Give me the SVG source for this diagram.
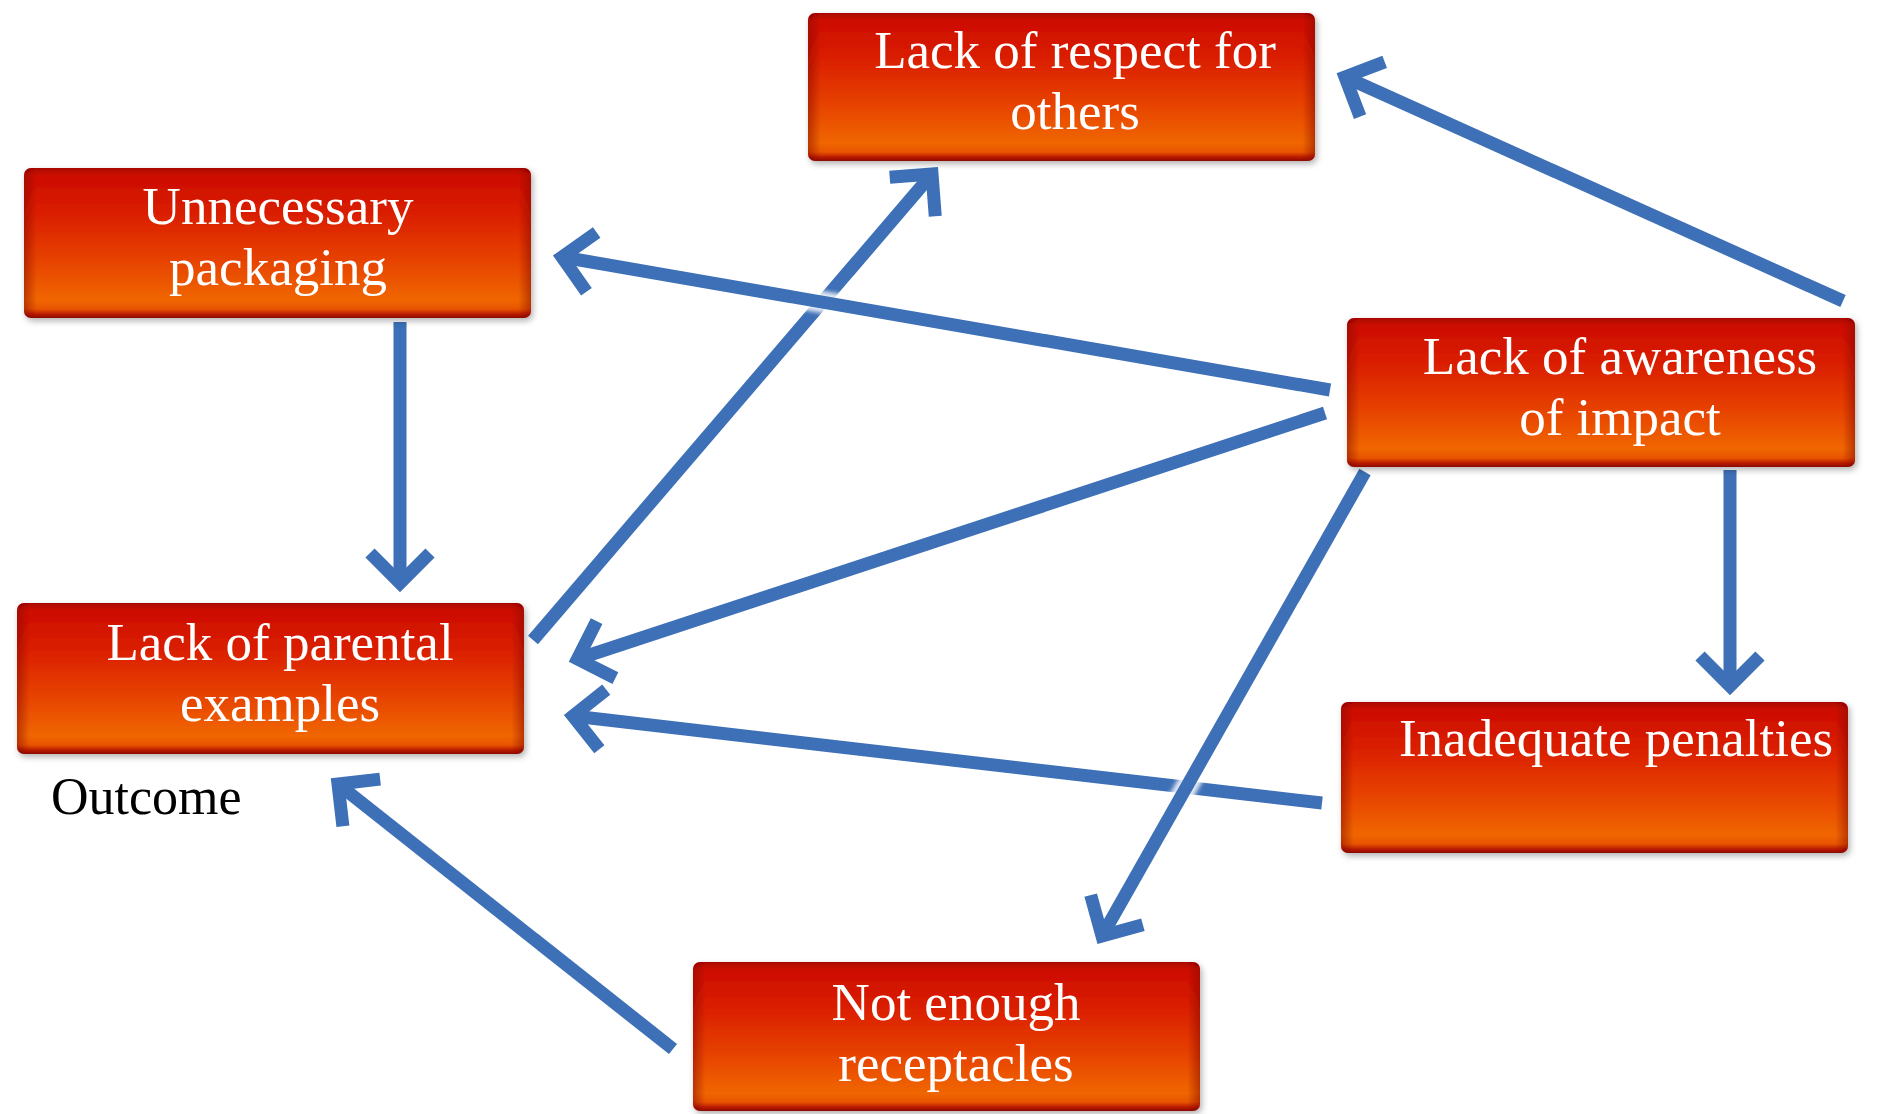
<svg xmlns="http://www.w3.org/2000/svg" width="1891" height="1114" viewBox="0 0 1891 1114">
  <defs>
    <!-- glossy red-to-orange button fill -->
    <linearGradient id="boxFill" x1="0" y1="0" x2="0" y2="1">
      <stop offset="0" stop-color="#a80600"/>
      <stop offset="0.05" stop-color="#cc0c00"/>
      <stop offset="0.3" stop-color="#da1e00"/>
      <stop offset="0.6" stop-color="#e64000"/>
      <stop offset="0.88" stop-color="#f06600"/>
      <stop offset="0.94" stop-color="#e85400"/>
      <stop offset="0.975" stop-color="#b81a00"/>
      <stop offset="1" stop-color="#8c0a00"/>
    </linearGradient>
    <linearGradient id="boxSides" x1="0" y1="0" x2="1" y2="0">
      <stop offset="0" stop-color="#7a0000" stop-opacity="0.45"/>
      <stop offset="0.025" stop-color="#7a0000" stop-opacity="0"/>
      <stop offset="0.975" stop-color="#7a0000" stop-opacity="0"/>
      <stop offset="1" stop-color="#7a0000" stop-opacity="0.45"/>
    </linearGradient>
    <filter id="boxShadow" x="-5%" y="-10%" width="110%" height="125%">
      <feDropShadow dx="2" dy="3" stdDeviation="3" flood-color="#000" flood-opacity="0.3"/>
    </filter>
    <filter id="soft" x="-5%" y="-5%" width="110%" height="110%">
      <feGaussianBlur stdDeviation="0.7"/>
    </filter>
    <filter id="haloBlur" x="-5%" y="-5%" width="110%" height="110%">
      <feGaussianBlur stdDeviation="2"/>
    </filter>
    <!-- open chevron arrowhead, vertex at the line end -->
    <marker id="chevron" markerUnits="userSpaceOnUse" orient="auto" refX="0" refY="0"
            markerWidth="100" markerHeight="100" viewBox="-50 -50 100 100" overflow="visible">
      <path d="M-30,-30 L0,0 L-30,30" fill="none" stroke="#3d6fb6" stroke-width="13"
            stroke-linejoin="miter" stroke-miterlimit="4" stroke-linecap="butt"/>
    </marker>
    <style>
      .box { fill: url(#boxFill); }
      .sides { fill: url(#boxSides); }
      .label { font-family: "Liberation Serif", "Times New Roman", serif; font-size: 53px; fill: #ffffff; text-anchor: middle; }
      .plain { font-family: "Liberation Serif", "Times New Roman", serif; font-size: 52px; fill: #000000; }
      .link { fill: none; stroke: #3d6fb6; stroke-width: 13; stroke-linecap: butt; marker-end: url(#chevron); }
      .halo { fill: none; stroke: #ffffff; stroke-width: 22; stroke-opacity: 0.85; }
    </style>
  </defs>

  <rect x="0" y="0" width="1891" height="1114" fill="#ffffff"/>

  <!-- connectors; the later lines carry a pale halo where they cross earlier ones -->
  <g id="connectors" filter="url(#soft)">
    <line class="link" x1="400" y1="322" x2="400" y2="583"/>
    <line class="link" x1="533" y1="640" x2="932" y2="174"/>
    <line class="halo" x1="1330" y1="390" x2="562" y2="257" filter="url(#haloBlur)"/>
    <line class="link" x1="1330" y1="390" x2="562" y2="257"/>
    <line class="link" x1="1325" y1="413" x2="577.5" y2="659"/>
    <line class="link" x1="1322" y1="803" x2="573" y2="716"/>
    <line class="link" x1="673" y1="1049" x2="338" y2="784"/>
    <line class="link" x1="1843" y1="301" x2="1345" y2="77"/>
    <line class="halo" x1="1365" y1="472" x2="1102" y2="936" filter="url(#haloBlur)"/>
    <line class="link" x1="1365" y1="472" x2="1102" y2="936"/>
    <line class="link" x1="1730" y1="470" x2="1730" y2="686"/>
  </g>

  <g id="node-respect" filter="url(#boxShadow)">
    <rect class="box" x="808" y="13" width="507" height="148" rx="7"/>
    <rect class="sides" x="808" y="13" width="507" height="148" rx="7"/>
    <text class="label" x="1075" y="68">Lack of respect for</text>
    <text class="label" x="1075" y="129">others</text>
  </g>

  <g id="node-packaging" filter="url(#boxShadow)">
    <rect class="box" x="24" y="168" width="507" height="150" rx="7"/>
    <rect class="sides" x="24" y="168" width="507" height="150" rx="7"/>
    <text class="label" x="278" y="224">Unnecessary</text>
    <text class="label" x="278" y="285">packaging</text>
  </g>

  <g id="node-awareness" filter="url(#boxShadow)">
    <rect class="box" x="1347" y="318" width="508" height="149" rx="7"/>
    <rect class="sides" x="1347" y="318" width="508" height="149" rx="7"/>
    <text class="label" x="1620" y="374">Lack of awareness</text>
    <text class="label" x="1620" y="435">of impact</text>
  </g>

  <g id="node-parental" filter="url(#boxShadow)">
    <rect class="box" x="17" y="603" width="507" height="151" rx="7"/>
    <rect class="sides" x="17" y="603" width="507" height="151" rx="7"/>
    <text class="label" x="280" y="660">Lack of parental</text>
    <text class="label" x="280" y="721">examples</text>
  </g>

  <g id="node-outcome">
    <text class="plain" x="51" y="814">Outcome</text>
  </g>

  <g id="node-penalties" filter="url(#boxShadow)">
    <rect class="box" x="1341" y="702" width="507" height="151" rx="7"/>
    <rect class="sides" x="1341" y="702" width="507" height="151" rx="7"/>
    <text class="label" x="1616" y="756">Inadequate penalties</text>
  </g>

  <g id="node-receptacles" filter="url(#boxShadow)">
    <rect class="box" x="693" y="962" width="507" height="149" rx="7"/>
    <rect class="sides" x="693" y="962" width="507" height="149" rx="7"/>
    <text class="label" x="956" y="1020">Not enough</text>
    <text class="label" x="956" y="1081">receptacles</text>
  </g>
</svg>
